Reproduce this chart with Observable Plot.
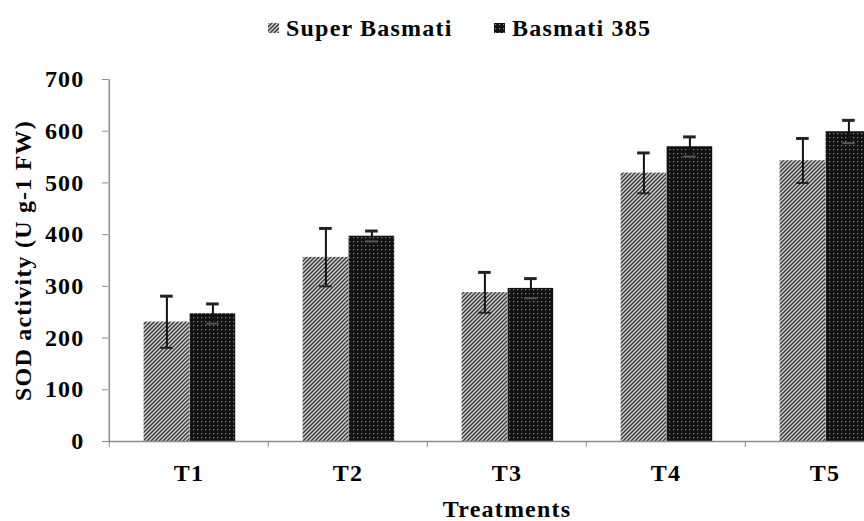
<!DOCTYPE html>
<html>
<head>
<meta charset="utf-8">
<script src="https://cdn.jsdelivr.net/npm/d3@7"></script>
<script src="https://cdn.jsdelivr.net/npm/@observablehq/plot@0.6"></script>
<style>
  body { margin: 0; background: #fff; }
  #wrap { position: relative; width: 864px; height: 521px; overflow: hidden; background: #fff;
          font-family: "Liberation Serif", "Times New Roman", serif; font-weight: bold; }
  #legend { position: absolute; left: 0; top: 0; width: 864px; height: 55px; }
  .legend-item { position: absolute; top: 15px; display: flex; align-items: center; font-size: 24px;
                 line-height: 26px; letter-spacing: 1.2px; color: #000; white-space: nowrap; }
  .legend-item svg { margin-right: 7px; }
  #chart svg { overflow: hidden; }
</style>
</head>
<body>
<svg width="0" height="0" style="position:absolute">
  <defs>
    <pattern id="hatchSB" patternUnits="userSpaceOnUse" width="4" height="4">
      <rect width="4" height="4" fill="#d0d0d0"/>
      <path d="M-1,1 l2,-2 M0,4 l4,-4 M3,5 l2,-2" stroke="#3a3a3a" stroke-width="1.4"/>
    </pattern>
    <pattern id="dotsB" patternUnits="userSpaceOnUse" width="4" height="4">
      <rect width="4" height="4" fill="#121212"/>
      <rect x="1" y="1" width="1.2" height="1.2" fill="#8a8a8a"/>
    </pattern>
  </defs>
</svg>
<div id="wrap">
  <div id="chart"></div>
  <div id="legend"></div>
</div>
<script>
// ---- data ----
const treatments = ["T1", "T2", "T3", "T4", "T5"];
const varieties = ["Super Basmati", "Basmati 385"];
const superBasmati = [231, 356, 288, 519, 543];
const superBasmatiErr = [50, 56, 39, 39, 43];
const basmati385 = [247, 397, 296, 570, 599];
const basmati385Err = [19, 10, 19, 19, 22];
const yTicks = [0, 100, 200, 300, 400, 500, 600, 700];
const yLabel = "SOD activity (U g-1 FW)";
const xLabel = "Treatments";

// ---- table built from the arrays ----
const sbRows = treatments.map((t, i) => ({treatment: t, variety: varieties[0], value: superBasmati[i], err: superBasmatiErr[i]}));
const bRows = treatments.map((t, i) => ({treatment: t, variety: varieties[1], value: basmati385[i], err: basmati385Err[i]}));

// ---- layout / style ----
const W = 864, H = 521;
const mL = 108, mR = -41, mT = 79, mB = 80;
const step = (W - mR - mL) / treatments.length;
const barW = 46, padL = 34.6;
const sbFill = "url(#hatchSB)", bFill = "url(#dotsB)";
const axisGray = "#8c8c8c";
const capW = 13;
const sbCenter = padL + barW / 2, bCenter = padL + barW * 1.5;
const fontSize = 24;

const chart = Plot.plot({
  width: W, height: H,
  marginLeft: mL, marginRight: mR, marginTop: mT, marginBottom: mB,
  style: {fontFamily: '"Liberation Serif", "Times New Roman", serif', fontWeight: "bold", fontSize: fontSize + "px", letterSpacing: "1.2px", color: "#000", background: "#fff", overflow: "hidden"},
  x: {domain: treatments, paddingInner: 0, paddingOuter: 0, axis: null},
  y: {domain: [yTicks[0], yTicks[yTicks.length - 1]], axis: null},
  marks: [
    Plot.barY(sbRows, {x: "treatment", y: "value", fill: sbFill, insetLeft: padL, insetRight: step - padL - barW}),
    Plot.barY(bRows, {x: "treatment", y: "value", fill: bFill, insetLeft: padL + barW, insetRight: step - padL - 2 * barW}),
    // error bars
    Plot.ruleX(sbRows, {x: "treatment", y1: d => d.value - d.err, y2: d => d.value + d.err, dx: sbCenter - step / 2, stroke: "#111", strokeWidth: 2}),
    Plot.ruleX(bRows, {x: "treatment", y1: d => d.value - d.err, y2: d => d.value + d.err, dx: bCenter - step / 2, stroke: "#111", strokeWidth: 2}),
    Plot.tickY(sbRows, {x: "treatment", y: d => d.value + d.err, insetLeft: sbCenter - capW / 2, insetRight: step - sbCenter - capW / 2, stroke: "#222", strokeWidth: 3}),
    Plot.tickY(sbRows, {x: "treatment", y: d => d.value - d.err, insetLeft: sbCenter - capW / 2, insetRight: step - sbCenter - capW / 2, stroke: "#222", strokeWidth: 2}),
    Plot.tickY(bRows, {x: "treatment", y: d => d.value + d.err, insetLeft: bCenter - capW / 2, insetRight: step - bCenter - capW / 2, stroke: "#222", strokeWidth: 3}),
    Plot.tickY(bRows, {x: "treatment", y: d => d.value - d.err, insetLeft: bCenter - capW / 2, insetRight: step - bCenter - capW / 2, stroke: "#555", strokeWidth: 2}),
    // axes
    Plot.ruleY([yTicks[0]], {stroke: axisGray, strokeWidth: 1.5}),
    Plot.ruleX([treatments[0]], {dx: -step / 2, y1: yTicks[0], y2: yTicks[yTicks.length - 1], stroke: axisGray, strokeWidth: 1.5}),
    Plot.axisY({ticks: yTicks, tickFormat: d => String(d), tickSize: 6, tickPadding: 18, stroke: axisGray,
                fontSize: fontSize, label: yLabel, labelAnchor: "center", labelOffset: 95, labelArrow: "none"}),
    Plot.axisX({tickSize: 0, tickPadding: 22, fontSize: fontSize, label: xLabel, labelAnchor: "center", labelOffset: 75, labelArrow: "none"}),
    Plot.axisX({tickSize: 6, tickFormat: () => "", stroke: axisGray, dx: -step / 2, label: null})
  ]
});
document.getElementById("chart").appendChild(chart);

// ---- legend ----
const legendItems = [
  {label: varieties[0], fill: sbFill, left: 268},
  {label: varieties[1], fill: bFill, left: 494}
];
const legend = d3.select("#legend");
for (const item of legendItems) {
  const div = legend.append("div").attr("class", "legend-item").style("left", item.left + "px");
  div.append("svg").attr("width", 11).attr("height", 10)
    .append("rect").attr("width", 11).attr("height", 10).attr("fill", item.fill);
  div.append("span").text(item.label);
}
</script>
</body>
</html>
